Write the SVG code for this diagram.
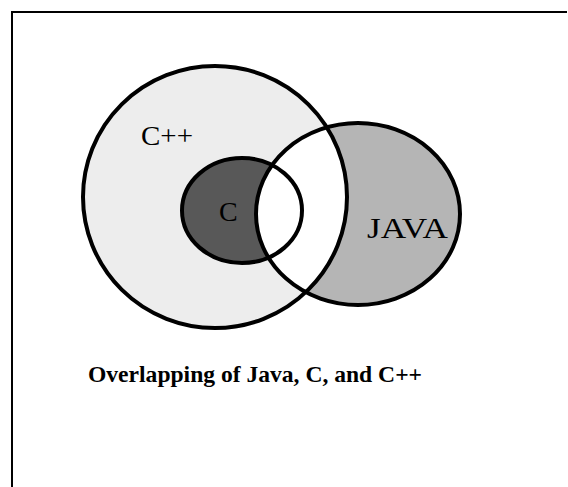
<svg xmlns="http://www.w3.org/2000/svg" width="568" height="487" viewBox="0 0 568 487">
  <style>
    .outline { fill: none; stroke: #000; stroke-width: 4; }
    .label { font-family: "Liberation Serif", "Times New Roman", serif; fill: #000; }
    .frame { stroke: #000; stroke-width: 2; }
  </style>
  <defs>
    <clipPath id="clipCpp"><ellipse cx="215" cy="197" rx="132" ry="131"/></clipPath>
    <clipPath id="clipC"><ellipse cx="242" cy="210.5" rx="60" ry="52.5"/></clipPath>
  </defs>
  <rect width="568" height="487" fill="#fff"/>

  <!-- frame -->
  <g id="frame">
    <line class="frame" x1="11" y1="12" x2="567" y2="12"/>
    <line class="frame" x1="12" y1="11" x2="12" y2="487"/>
  </g>

  <!-- region fills -->
  <g id="fills">
    <ellipse cx="215" cy="197" rx="132" ry="131" fill="#ededed"/>
    <ellipse cx="358" cy="214" rx="102" ry="91" fill="#b5b5b5"/>
    <ellipse cx="358" cy="214" rx="102" ry="91" fill="#fff" clip-path="url(#clipCpp)"/>
    <ellipse cx="242" cy="210.5" rx="60" ry="52.5" fill="#585858"/>
    <ellipse cx="358" cy="214" rx="102" ry="91" fill="#fff" clip-path="url(#clipC)"/>
  </g>

  <!-- set outlines -->
  <g id="cpp">
    <ellipse class="outline" cx="215" cy="197" rx="132" ry="131"/>
    <text class="label" x="141" y="145" font-size="28" textLength="52" lengthAdjust="spacingAndGlyphs">C++</text>
  </g>
  <g id="java">
    <ellipse class="outline" cx="358" cy="214" rx="102" ry="91"/>
    <text class="label" x="367" y="238" font-size="30" textLength="81" lengthAdjust="spacingAndGlyphs">JAVA</text>
  </g>
  <g id="c">
    <ellipse class="outline" cx="242" cy="210.5" rx="60" ry="52.5" stroke-width="5"/>
    <text class="label" x="219" y="221" font-size="28">C</text>
  </g>

  <!-- caption -->
  <g id="caption">
    <text class="label" x="88" y="382" font-size="24" font-weight="bold" textLength="334" lengthAdjust="spacingAndGlyphs">Overlapping of Java, C, and C++</text>
  </g>
</svg>
